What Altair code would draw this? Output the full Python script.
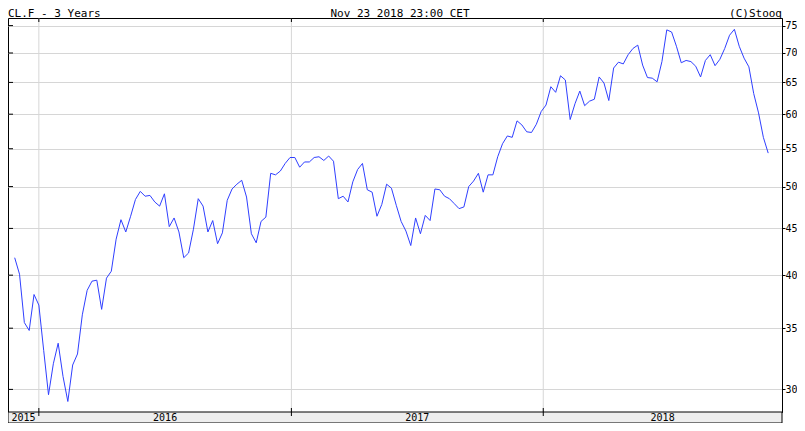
import altair as alt
import pandas as pd

# ---- data (weekly closes) ----
v2015 = [41.8, 40.1, 35.5, 34.8, 38.1]
v2016 = [37.1, 33.1, 29.6, 32.0, 33.7,
         31.0, 29.1, 31.9, 32.8,
         36.2, 38.5, 39.4, 39.5,
         36.7, 39.7, 40.4, 43.8, 46.0,
         44.6, 46.4, 48.4, 49.4,
         48.8, 48.9, 48.1, 47.6,
         49.1, 45.2, 46.2, 44.6, 41.8,
         42.3, 44.9, 48.5, 47.6,
         44.6, 45.9, 43.3, 44.5, 48.3,
         49.7, 50.3, 50.8, 48.7,
         44.4, 43.4, 45.8, 46.3,
         51.7, 51.5, 52.0, 53.0, 53.8]
v2017 = [53.8, 52.5, 53.2, 53.2,
         53.8, 53.9, 53.4, 54.0,
         53.3, 48.5, 48.8, 48.1, 50.6,
         52.2, 53.0, 49.6, 49.3,
         46.4, 47.8, 50.3, 49.8,
         47.7, 45.8, 44.7, 43.1, 46.2,
         44.4, 46.5, 45.9, 49.7,
         49.6, 48.8, 48.5, 47.9,
         47.3, 47.5, 50.0, 50.7, 51.7,
         49.3, 51.5, 51.5, 53.9,
         55.7, 56.8, 56.6, 59.0,
         58.4, 57.4, 57.3, 58.5, 60.4]
v2018 = [61.4, 64.3, 63.4, 66.1,
         65.4, 59.2, 61.6, 63.6,
         61.3, 62.0, 62.3, 65.9, 64.9,
         62.1, 67.4, 68.4, 68.1,
         69.7, 70.8, 71.4, 67.9,
         65.8, 65.7, 65.1, 68.5, 74.2,
         73.8, 71.2, 68.3, 68.7,
         68.5, 67.7, 65.9, 68.7, 69.7,
         67.8, 68.9, 70.8, 73.2,
         74.3, 71.2, 69.1, 67.6,
         63.2, 60.2, 56.6, 54.4]
values = v2015 + v2016 + v2017 + v2018
first_week = "2015-11-27"

y_ticks = [30, 35, 40, 45, 50, 55, 60, 65, 70, 75]
year_labels = ["2015", "2016", "2017", "2018"]
year_starts = ["2016-01-01", "2017-01-01", "2018-01-01"]
x_start = pd.Timestamp("2015-11-17 07:00")
x_end = pd.Timestamp("2018-12-13 00:00")
y_min, y_max = 28.34, 76.45

title_left = "CL.F - 3 Years"
title_mid = "Nov 23 2018 23:00 CET"
title_right = "(C)Stooq"

# ---- tables ----
dates = pd.date_range(first_week, periods=len(values), freq="7D")
df = pd.DataFrame({"date": dates, "close": values})
grid_df = pd.DataFrame({"date": pd.to_datetime(year_starts)})
tick_df = pd.DataFrame({"close": y_ticks})

mids = []
for lab in year_labels:
    a = max(pd.Timestamp(f"{lab}-01-01"), x_start)
    b = min(pd.Timestamp(f"{int(lab)+1}-01-01"), x_end)
    mids.append(a + (b - a) / 2)
lab_df = pd.DataFrame({"date": mids, "label": year_labels})
one = pd.DataFrame({"k": [0]})

W, H = 774, 394
BAND = 11
FONT = "DejaVu Sans Mono"
GRID = "#d6d6d6"

def dt(t):
    return alt.DateTime(year=t.year, month=t.month, date=t.day, hours=t.hour)

xs = alt.Scale(domain=[dt(x_start), dt(x_end)])
ys = alt.Scale(type="log", domain=[y_min, y_max], nice=False, zero=False)

X = alt.X("date:T", scale=xs, axis=None)
y_axis = alt.Axis(orient="right", values=y_ticks, grid=True, gridColor=GRID,
                  tickSize=3, tickColor="black", domainColor="black",
                  labelFont=FONT, labelFontSize=10, labelColor="black",
                  labelPadding=0, labelOverlap=False, format="d", title=None)
Y = alt.Y("close:Q", scale=ys, axis=y_axis)

xgrid = alt.Chart(grid_df).mark_rule(color=GRID, strokeWidth=1).encode(
    x=X, y=alt.value(0), y2=alt.value(H))
top_ticks = alt.Chart(grid_df).mark_rule(color="black").encode(
    x=X, y=alt.value(0), y2=alt.value(4))
bot_ticks = alt.Chart(grid_df).mark_rule(color="black").encode(
    x=X, y=alt.value(H - 4), y2=alt.value(H))
left_ticks = alt.Chart(tick_df).mark_rule(color="black").encode(
    y=Y, x=alt.value(0), x2=alt.value(5))

line = alt.Chart(df).mark_line(color="#2f3fff", strokeWidth=1).encode(x=X, y=Y)

band = alt.Chart(one).mark_rect(fill="#eeeeee", stroke="black", strokeWidth=1).encode(
    x=alt.value(0), x2=alt.value(W), y=alt.value(H), y2=alt.value(H + BAND))
band_ticks = alt.Chart(grid_df).mark_rule(color="black").encode(
    x=X, y=alt.value(H), y2=alt.value(H + 4))

years = alt.Chart(lab_df).mark_text(font=FONT, fontSize=10, color="black",
                                    baseline="alphabetic", align="center").encode(
    x=X, y=alt.value(H + 9), text="label:N")

t_left = alt.Chart(one).mark_text(text=title_left, font=FONT, fontSize=11,
                                  align="left", baseline="alphabetic", color="black").encode(
    x=alt.value(0), y=alt.value(-1.5))
t_mid = alt.Chart(one).mark_text(text=title_mid, font=FONT, fontSize=11,
                                 align="center", baseline="alphabetic", color="black").encode(
    x=alt.value(392), y=alt.value(-1.5))
t_right = alt.Chart(one).mark_text(text=title_right, font=FONT, fontSize=11,
                                   align="right", baseline="alphabetic", color="black").encode(
    x=alt.value(W), y=alt.value(-1.5))

chart = alt.layer(
    xgrid, line, left_ticks, top_ticks, bot_ticks, band, band_ticks, years,
    t_left, t_mid, t_right
).properties(
    width=W, height=H,
    autosize=alt.AutoSizeParams(type="none"),
    padding={"left": 0, "top": 10, "right": 15, "bottom": BAND},
    background="white",
).configure_view(stroke="black", strokeWidth=1)

chart.save("out.html", embed_options={"renderer": "svg", "actions": False})
